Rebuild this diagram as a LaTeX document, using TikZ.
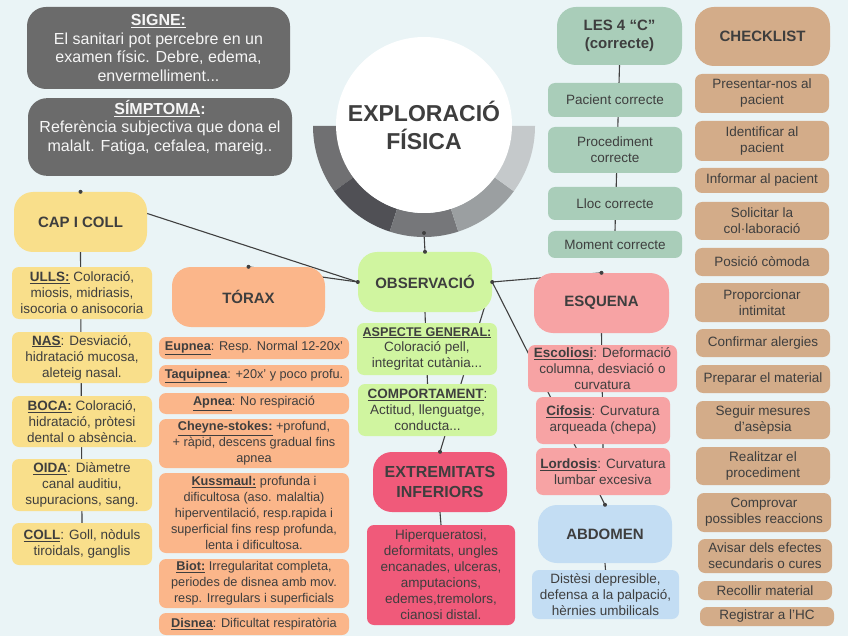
\documentclass[tikz,border=0pt]{standalone}
\usepackage{fontspec}
\setmainfont{Liberation Sans}
\pgfdeclarelayer{bg}
\pgfsetlayers{bg,main}
\definecolor{bgc}{HTML}{EAF4F6}
\definecolor{txt}{HTML}{3E3E3E}
\definecolor{gry}{HTML}{6B6B6B}
\definecolor{grn}{HTML}{D0F5A0}
\definecolor{crim}{HTML}{F05A7A}
\definecolor{yel}{HTML}{F9DF8B}
\definecolor{ora}{HTML}{FBB68A}
\definecolor{pnk}{HTML}{F7A3A4}
\definecolor{blu}{HTML}{C3DDF3}
\definecolor{sag}{HTML}{A9CDB9}
\definecolor{tan}{HTML}{D3AC89}
\definecolor{lnc}{HTML}{404040}
\definecolor{rA}{HTML}{707072}
\definecolor{rB}{HTML}{505055}
\definecolor{rC}{HTML}{76777A}
\definecolor{rD}{HTML}{9B9FA1}
\definecolor{rE}{HTML}{C5C9CB}
\tikzset{
  bxat/.style args={#1/#2/#3/#4}{minimum width={(#3-#1)*1pt}, minimum height={(#4-#2)*1pt}, at={({(#1+#3)/2},{(#2+#4)/2})}},
  hd/.style={rounded corners=19pt, inner sep=2pt, align=center, text=txt, font=\fontsize{15}{18}\selectfont\bfseries},
  it/.style={rounded corners=7pt, inner sep=1pt, align=center, text=txt, font=\fontsize{13.5}{16}\selectfont},
  tx/.style={it, font=\fontsize{12.7}{16}\selectfont},
  conn/.style={draw=lnc, line width=1.1pt},
  dot/.style={fill=lnc}
}
\begin{document}
\begin{tikzpicture}[x=1pt,y=-1pt]
\begin{pgfonlayer}{bg}
\fill[bgc] (0,0) rectangle (848,636);
\end{pgfonlayer}
\useasboundingbox (0,0) rectangle (848,636);

% central title
\foreach \a/\b/\c in {180/144/rA,144/108/rB,108/72/rC,72/36/rD,36/0/rE}{
  \fill[\c] plot[domain=\a:\b, samples=25] ({424+111*cos(\x)},{126+111*sin(\x)}) -- plot[domain=\b:\a, samples=25] ({424+87*cos(\x)},{126+87*sin(\x)}) -- cycle;
}
\node[circle, fill=white, minimum size=176pt, inner sep=0pt, align=center, text=txt, font=\fontsize{23}{28}\selectfont\bfseries] (title) at (424,125) {EXPLORACIÓ\\FÍSICA};
\coordinate (ringb) at (424,233);

% top-left gray boxes
\node[hd, fill=gry, text=white!94!gry, bxat=27/7/290/89, font=\fontsize{16}{18.5}\selectfont] (signe) {\textbf{\underline{SIGNE:}}\\El sanitari pot percebre en un\\examen físic. Debre, edema,\\envermelliment...};
\node[hd, fill=gry, text=white!94!gry, bxat=28/99/292/175, font=\fontsize{16}{18.5}\selectfont] (simp) {\textbf{\underline{SÍMPTOMA}:}\\Referència subjectiva que dona el\\malalt. Fatiga, cefalea, mareig..\\[4pt]};

% CAP I COLL
\node[hd, fill=yel, bxat=14/192/147/252] (cap) {CAP I COLL};
\node[it, fill=yel, bxat=12/267/152/319] (ulls) {\textbf{\underline{ULLS:}} Coloració,\\miosis, midriasis,\\isocoria o anisocoria};
\node[it, fill=yel, bxat=12/332/152/383] (nas) {\textbf{\underline{NAS}}: Desviació,\\hidratació mucosa,\\aleteig nasal.};
\node[it, fill=yel, bxat=12/396/152/447] (boca) {\textbf{\underline{BOCA:}} Coloració,\\hidratació, pròtesi\\dental o absència.};
\node[it, fill=yel, bxat=12/459/152/511] (oida) {\textbf{\underline{OIDA}}: Diàmetre\\canal auditiu,\\supuracions, sang.};
\node[it, fill=yel, bxat=12/523/152/565] (coll) {\textbf{\underline{COLL}}: Goll, nòduls\\tiroidals, ganglis};

% TORAX
\node[hd, fill=ora, bxat=172/267/325/327] (torax) {TÓRAX};
\node[tx, fill=ora, bxat=159/337/349/359] (eup) {\textbf{\underline{Eupnea}}: Resp. Normal 12-20x’};
\node[tx, fill=ora, bxat=159/365/349/387] (taq) {\textbf{\underline{Taquipnea}}: +20x’ y poco profu.};
\node[tx, fill=ora, bxat=159/393/349/414] (apn) {\textbf{\underline{Apnea}}: No respiració};
\node[tx, fill=ora, bxat=159/419/349/468] (chey) {\textbf{\underline{Cheyne-stokes:}} +profund,\\+ ràpid, descens gradual fins\\apnea};
\node[tx, fill=ora, bxat=159/473/349/553] (kuss) {\textbf{\underline{Kussmaul:}} profunda i\\dificultosa (aso. malaltia)\\hiperventilació, resp.rapida i\\superficial fins resp profunda,\\lenta i dificultosa.};
\node[tx, fill=ora, bxat=159/559/349/608] (biot) {\textbf{\underline{Biot:}} Irregularitat completa,\\periodes de disnea amb mov.\\resp. Irregulars i superficials};
\node[tx, fill=ora, bxat=159/613/349/635] (disn) {\textbf{\underline{Disnea}}: Dificultat respiratòria};

% OBSERVACIO
\node[hd, fill=grn, bxat=358/252/492/312] (obs) {OBSERVACIÓ};
\node[it, fill=grn, bxat=357/323/497/375] (asp) {{\fontsize{12.6}{16}\selectfont\textbf{\underline{ASPECTE GENERAL:}}}\\Coloració pell,\\integritat cutània...};
\node[it, fill=grn, bxat=358/384/497/436] (comp) {\textbf{\underline{COMPORTAMENT}}:\\Actitud, llenguatge,\\conducta...};
\node[hd, fill=crim, bxat=373/452/507/512, font=\fontsize{16}{20}\selectfont\bfseries] (extr) {EXTREMITATS\\INFERIORS};
\node[it, fill=crim, bxat=367/525/515/625] (extl) {Hiperqueratosi,\\deformitats, ungles\\encanades, ulceras,\\amputacions,\\edemes,tremolors,\\cianosi distal.};

% ESQUENA / ABDOMEN
\node[hd, fill=pnk, bxat=534/273/669/333] (esq) {ESQUENA};
\node[it, fill=pnk, bxat=528/345/677/392] (esco) {\textbf{\underline{Escoliosi}}: Deformació\\columna, desviació o\\curvatura};
\node[it, fill=pnk, bxat=536/397/670/444] (cif) {\textbf{\underline{Cifosis}}: Curvatura\\arqueada (chepa)};
\node[it, fill=pnk, bxat=536/448/670/495] (lord) {\textbf{\underline{Lordosis}}: Curvatura\\lumbar excesiva};
\node[hd, fill=blu, bxat=538/505/672/563] (abd) {ABDOMEN};
\node[it, fill=blu, bxat=532/570/679/619] (abdl) {Distèsi depresible,\\defensa a la palpació,\\hèrnies umbilicals};

% LES 4 C
\node[hd, fill=sag, bxat=557/7/682/65] (c4) {LES 4 “C”\\(correcte)};
\node[it, fill=sag, bxat=548/83/682/117] (pac) {Pacient correcte};
\node[it, fill=sag, bxat=548/127/682/173] (proc) {Procediment\\correcte};
\node[it, fill=sag, bxat=548/187/682/220] (lloc) {Lloc correcte};
\node[it, fill=sag, bxat=548/231/682/258] (mom) {Moment correcte};

% CHECKLIST
\node[hd, fill=tan, bxat=695/7/830/66] (chk) {CHECKLIST};
\node[it, fill=tan, bxat=695/74/829/113] (k1) {Presentar-nos al\\pacient};
\node[it, fill=tan, bxat=695/121/829/161] (k2) {Identificar al\\pacient};
\node[it, fill=tan, bxat=695/168/829/193] (k3) {Informar al pacient};
\node[it, fill=tan, bxat=695/202/829/240] (k4) {Solicitar la\\col·laboració};
\node[it, fill=tan, bxat=695/248/829/276] (k5) {Posició còmoda};
\node[it, fill=tan, bxat=695/283/829/322] (k6) {Proporcionar\\intimitat};
\node[it, fill=tan, bxat=696/329/830/357] (k7) {Confirmar alergies};
\node[it, fill=tan, bxat=696/365/830/393] (k8) {Preparar el material};
\node[it, fill=tan, bxat=696/401/830/439] (k9) {Seguir mesures\\d’asèpsia};
\node[it, fill=tan, bxat=696/447/830/485] (k10) {Realitzar el\\procediment};
\node[it, fill=tan, bxat=697/493/831/532] (k11) {Comprovar\\possibles reaccions};
\node[it, fill=tan, bxat=698/539/832/573] (k12) {Avisar dels efectes\\secundaris o cures};
\node[it, fill=tan, bxat=698/581/832/600] (k13) {Recollir material};
\node[it, fill=tan, bxat=700/607/834/626] (k14) {Registrar a l’HC};

% connectors (behind boxes)
\begin{pgfonlayer}{bg}
\draw[conn] (ringb) -- (obs.north);
\draw[conn] (obs.west) -- (cap.north);
\draw[conn] (obs.west) -- (torax.north);
\draw[conn] (obs.east) -- (esq.north);
\draw[conn] (obs.east) -- (abd.north);
\draw[conn] (obs.east) -- (extr.north);
\draw[conn] (obs.south) -- (comp.north);
\draw[conn] (cap.south) -- (coll.north);
\draw[conn] (esq.south) -- (lord.north);
\draw[conn] (extr.south) -- (extl.north);
\draw[conn] (abd.south) -- (abdl.north);
\draw[conn] (c4.south) -- (mom.north);
\end{pgfonlayer}
% dots
\foreach \p in {ringb, obs.north, obs.west, obs.east, cap.north, torax.north, esq.north, abd.north, extr.north}{
  \fill[dot] (\p) circle (2pt);
}
\end{tikzpicture}
\end{document}
